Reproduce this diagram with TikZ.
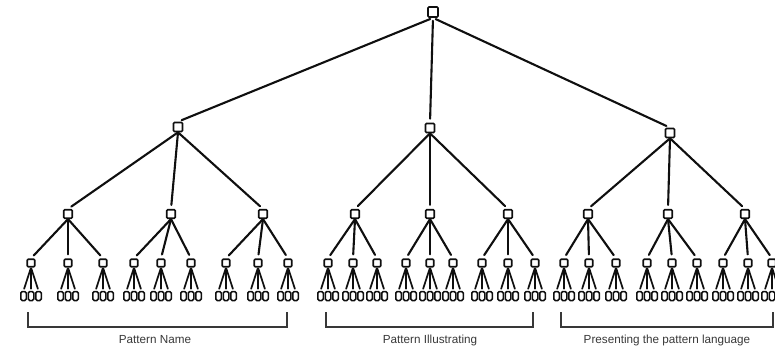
\documentclass[tikz,border=0pt]{standalone}
\usepackage{fontspec}
\setsansfont{Liberation Sans}
\usetikzlibrary{positioning}
\definecolor{ink}{rgb}{0.06,0.06,0.06}
\definecolor{textgray}{rgb}{0.22,0.22,0.22}

\tikzset{
  box/.style={draw=ink, line width=1.7pt, rounded corners=1pt, inner sep=0pt,
    minimum width=#1, minimum height=#1},
  leaf/.style={draw=ink, line width=1.5pt, rounded corners=1.5pt, inner sep=0pt,
    minimum width=5.5pt, minimum height=9pt},
  edge/.style={ink, line width=2.1pt, line cap=round, shorten >=4pt},
  twig/.style={ink, line width=1.7pt, line cap=round, shorten <=1pt, shorten >=2pt},
  bracket/.style={textgray, line width=1.1pt},
  lbl/.style={text=textgray, font=\sffamily\fontsize{11.7}{13}\selectfont}
}

\begin{document}
\begin{tikzpicture}[x=1pt,y=-1pt]
            \clip (0,0) rectangle (775,350);
            \useasboundingbox (0,0) rectangle (775,350);

            % root and first level
            \node[box=10pt] (r) at (433,12) {};
            \foreach \g/\x/\y in {1/178/127, 2/430/128, 3/670/133}{
              \node[box=9pt] (n\g) at (\x,\y) {};
              \draw[edge, shorten <=3pt] (r.south) -- (n\g.north);
            }

            % second and third level, then the leaves
            \foreach \g/\j/\x/\a/\b/\c in {1/1/68/31/68/103, 1/2/171/134/161/191, 1/3/263/226/258/288,
                                          2/1/355/328/353/377, 2/2/430/406/430/453, 2/3/508/482/508/535,
                                          3/1/588/564/589/616, 3/2/668/647/672/697, 3/3/745/723/748/772}{
              \node[box=8.5pt] (n\g-\j) at (\x,214) {};
              \draw[edge] (n\g.south) -- (n\g-\j.north);
              \foreach \k/\u in {1/\a, 2/\b, 3/\c}{
                \node[box=7.5pt] (n\g-\j-\k) at (\u,263) {};
                \draw[edge] (n\g-\j.south) -- (n\g-\j-\k.north);
                \foreach \l/\d in {1/-7.5, 2/0, 3/7.5}{
                  \node[leaf] (n\g-\j-\k-\l) at (\u+\d,296) {};
                  \draw[twig] (n\g-\j-\k.south) -- (n\g-\j-\k-\l.north);
                }
              }
            }

            % brackets and their labels
            \draw[bracket] (28,312) |- (287,327) -- (287,312);
            \draw[bracket] (326,312) |- (533,327) -- (533,312);
            \draw[bracket] (561,312) |- (773,327) -- (773,312);
            \node[lbl] (name) at (155,340) {Pattern Name};
            \node[lbl] (illus) at (430,340) {Pattern Illustrating};
            \node[lbl] (lang) at (667,340) {Presenting the pattern language};
\end{tikzpicture}
\end{document}
